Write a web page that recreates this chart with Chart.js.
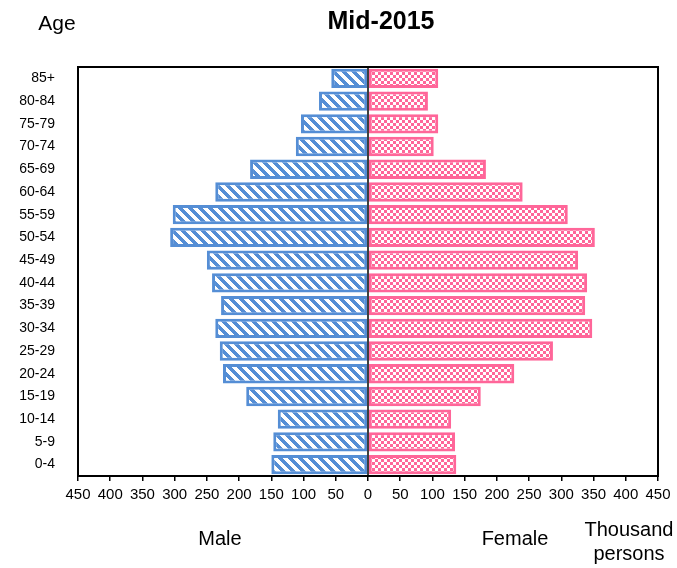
<!DOCTYPE html>
<html>
<head>
<meta charset="utf-8">
<script src="https://cdn.jsdelivr.net/npm/chart.js@4/dist/chart.umd.min.js"></script>
<style>
    html, body { margin: 0; padding: 0; background: #fff; }
    #wrap { position: relative; width: 677px; height: 568px; font-family: 'Liberation Sans', Arial, sans-serif; color: #000; }
    #pyramid { position: absolute; left: 0; top: 0; }
    .lbl { position: absolute; font-size: 20px; line-height: 24px; text-align: center; white-space: nowrap; transform: translate(-50%, -50%); }
</style>
</head>
<body>
<div id="wrap">
    <canvas id="pyramid" width="677" height="568"></canvas>
    <div class="lbl" style="left:57px; top:23px; font-size:21px;">Age</div>
    <div class="lbl" style="left:381px; top:20px; font-size:25px; font-weight:bold;">Mid-2015</div>
    <div class="lbl" style="left:220px; top:538px;">Male</div>
    <div class="lbl" style="left:515px; top:538px;">Female</div>
    <div class="lbl" style="left:629px; top:541px;">Thousand<br>persons</div>
</div>
<script>
// age groups, bottom to top
const ageGroups = ['0-4', '5-9', '10-14', '15-19', '20-24', '25-29', '30-34', '35-39', '40-44',
    '45-49', '50-54', '55-59', '60-64', '65-69', '70-74', '75-79', '80-84', '85+'];
// thousand persons
const maleValues = [150, 147, 140, 189, 225, 230, 237, 228, 242, 250, 307, 303, 237, 183, 112, 104, 76, 57];
const femaleValues = [137, 135, 129, 175, 227, 287, 348, 337, 340, 326, 352, 310, 240, 183, 102, 109, 93, 109];
const axisMax = 450;
const axisStep = 50;

const BLUE = '#558ED5';
const PINK = '#FF6699';

// diagonal stripes for male bars
function stripePattern(color) {
    const p = 10;
    const c = document.createElement('canvas');
    c.width = p; c.height = p;
    const g = c.getContext('2d');
    g.fillStyle = '#fff';
    g.fillRect(0, 0, p, p);
    g.fillStyle = color;
    for (let y = 0; y < p; y++) {
        for (let x = 0; x < p; x++) {
            if (((x - y) % p + p) % p < 5) g.fillRect(x, y, 1, 1);
        }
    }
    return g.createPattern(c, 'repeat');
}

// small checkerboard for female bars
function checkerPattern(color) {
    const s = 3;
    const c = document.createElement('canvas');
    c.width = s * 2; c.height = s * 2;
    const g = c.getContext('2d');
    g.fillStyle = '#fff';
    g.fillRect(0, 0, s * 2, s * 2);
    g.fillStyle = color;
    g.fillRect(0, 0, s, s);
    g.fillRect(s, s, s, s);
    return g.createPattern(c, 'repeat');
}

// frame round the plot and the line at zero
const framePlugin = {
    id: 'frame',
    afterDatasetsDraw(chart) {
        const { ctx, chartArea: a, scales } = chart;
        const x0 = scales.x.getPixelForValue(0);
        ctx.save();
        ctx.strokeStyle = '#000';
        ctx.lineWidth = 1.5;
        ctx.beginPath();
        ctx.moveTo(x0, a.top);
        ctx.lineTo(x0, a.bottom);
        ctx.stroke();
        ctx.lineWidth = 2;
        ctx.strokeRect(a.left, a.top, a.right - a.left, a.bottom - a.top);
        ctx.restore();
    }
};

const ctx = document.getElementById('pyramid').getContext('2d');

new Chart(ctx, {
    type: 'bar',
    data: {
        labels: ageGroups,
        datasets: [
            {
                label: 'Male',
                data: maleValues.map(v => -v),
                backgroundColor: stripePattern(BLUE),
                borderColor: BLUE,
                borderWidth: 3,
                borderSkipped: false,
            },
            {
                label: 'Female',
                data: femaleValues,
                backgroundColor: checkerPattern(PINK),
                borderColor: PINK,
                borderWidth: 3,
                borderSkipped: false,
            }
        ]
    },
    options: {
        indexAxis: 'y',
        responsive: false,
        animation: false,
        datasets: { bar: { barPercentage: 0.85, categoryPercentage: 1 } },
        layout: { padding: { top: 67, left: 0, right: 19, bottom: 62 } },
        plugins: { legend: { display: false }, tooltip: { enabled: false } },
        scales: {
            x: {
                stacked: true,
                min: -axisMax,
                max: axisMax,
                border: { display: false },
                grid: { drawOnChartArea: false, drawTicks: true, tickLength: 5, color: '#000', lineWidth: 1.5 },
                ticks: {
                    stepSize: axisStep,
                    autoSkip: false,
                    maxRotation: 0,
                    padding: 5,
                    color: '#000',
                    font: { family: "'Liberation Sans', Arial, sans-serif", size: 15 },
                    callback: v => Math.abs(v)
                },
                afterFit: s => { s.height = 30; }
            },
            y: {
                stacked: true,
                reverse: true,
                border: { display: false },
                grid: { display: false, drawTicks: false },
                ticks: {
                    padding: 23,
                    color: '#000',
                    font: { family: "'Liberation Sans', Arial, sans-serif", size: 14 }
                },
                afterFit: s => { s.width = 78; }
            }
        }
    },
    plugins: [framePlugin]
});
</script>
</body>
</html>
